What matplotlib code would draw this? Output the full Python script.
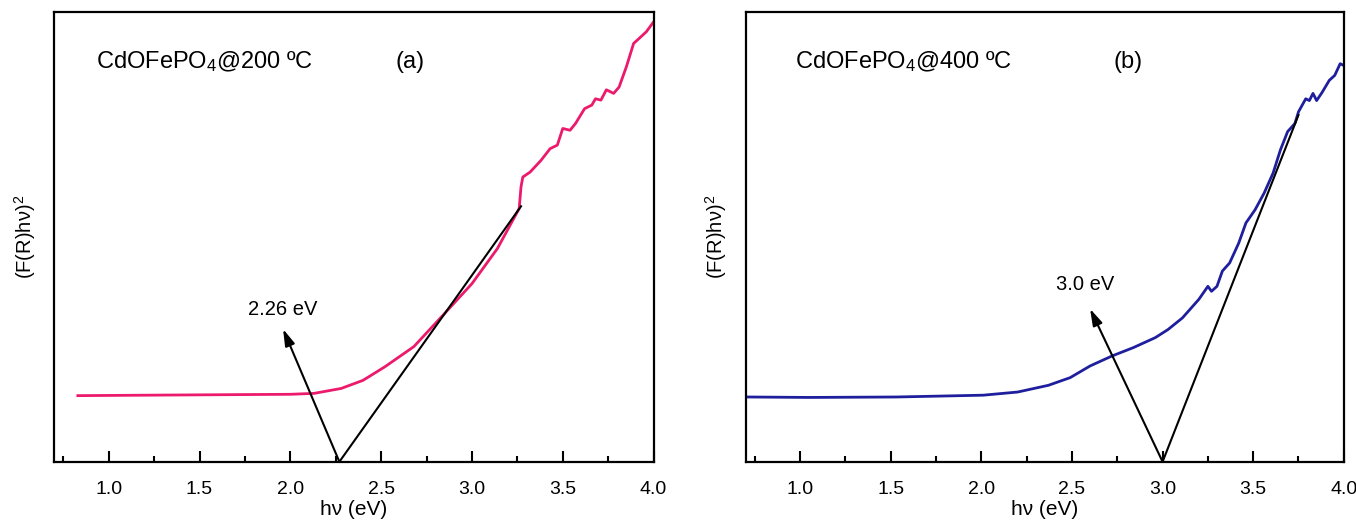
"""Tauc plots for CdOFePO4 calcined at 200 and 400 C (band gap estimate)."""

import matplotlib

matplotlib.use("Agg")
import matplotlib.pyplot as plt
from matplotlib.ticker import MultipleLocator

plt.rcParams["font.family"] = ["Liberation Sans", "DejaVu Sans"]
plt.rcParams.update(
    {
        "mathtext.fontset": "custom",
        "mathtext.rm": "Liberation Sans",
        "mathtext.it": "Liberation Sans:italic",
        "mathtext.bf": "Liberation Sans:bold",
    }
)

# panel (a) - 200 C
hv_a = [0.83, 1.2, 1.6, 2.0, 2.13, 2.28, 2.40, 2.52, 2.68, 2.85, 3.00, 3.14, 3.26,
        3.27, 3.28, 3.32, 3.38, 3.43, 3.47, 3.50, 3.54, 3.57, 3.62, 3.66, 3.68,
        3.71, 3.74, 3.78, 3.81, 3.85, 3.89, 3.92, 3.96, 4.00]
fr_a = [14.7, 14.8, 14.9, 15.0, 15.2, 16.3, 18.1, 21.1, 25.6, 33.0, 39.6, 47.4, 56.3,
        61.1, 63.3, 64.4, 67.0, 69.6, 70.4, 74.1, 73.7, 75.2, 78.5, 79.3, 80.7,
        80.4, 82.7, 81.9, 83.3, 87.8, 93.0, 94.1, 95.6, 97.8]

# panel (b) - 400 C
hv_b = [0.71, 1.05, 1.53, 2.01, 2.20, 2.37, 2.49, 2.60, 2.72, 2.84, 2.96, 3.03, 3.11,
        3.20, 3.25, 3.27, 3.30, 3.33, 3.37, 3.42, 3.46, 3.51, 3.56, 3.61, 3.65,
        3.69, 3.73, 3.75, 3.79, 3.81, 3.83, 3.85, 3.88, 3.92, 3.95, 3.98, 4.00]
fr_b = [14.4, 14.3, 14.4, 14.8, 15.5, 17.0, 18.7, 21.3, 23.5, 25.4, 27.6, 29.4, 32.0,
        36.1, 39.0, 37.9, 39.0, 42.4, 44.2, 48.6, 53.1, 56.0, 59.7, 64.2, 69.3,
        73.4, 75.2, 77.8, 80.7, 80.3, 81.9, 80.3, 82.1, 84.8, 85.9, 88.5, 88.1]

# tangent line end points and arrow/label positions
tangent_a = ([2.27, 3.27], [0.0, 56.8])
tangent_b = ([3.00, 3.75], [0.0, 77.1])
arrow_a = ((2.27, 0.0), (1.96, 29.5))
arrow_b = ((3.00, 0.0), (2.60, 34.0))
gap_a = "2.26 eV"
gap_b = "3.0 eV"

panels = [
    dict(hv=hv_a, fr=fr_a, color="#EC1A6C", tangent=tangent_a, arrow=arrow_a,
         gap=gap_a, gap_xy=(1.96, 31.8), name="CdOFePO$_4$@200 ºC", tag="(a)",
         name_x=0.93, tag_x=2.66, rect=[0.040, 0.112, 0.442, 0.865]),
    dict(hv=hv_b, fr=fr_b, color="#1F1F9E", tangent=tangent_b, arrow=arrow_b,
         gap=gap_b, gap_xy=(2.57, 37.2), name="CdOFePO$_4$@400 ºC", tag="(b)",
         name_x=0.97, tag_x=2.81, rect=[0.550, 0.112, 0.441, 0.865]),
]

fig = plt.figure(figsize=(13.56, 5.2), dpi=100)

for p in panels:
    ax = fig.add_axes(p["rect"])
    ax.plot(p["hv"], p["fr"], color=p["color"], linewidth=2.0)
    ax.plot(p["tangent"][0], p["tangent"][1], color="black", linewidth=1.5)
    (x0, y0), (x1, y1) = p["arrow"]
    ax.annotate("", xy=(x1, y1), xytext=(x0, y0),
                arrowprops=dict(arrowstyle="-|>,head_length=1.0,head_width=0.3",
                                color="black", linewidth=1.5, shrinkA=0, shrinkB=0))
    ax.text(p["gap_xy"][0], p["gap_xy"][1], p["gap"], fontsize=14.5,
            ha="center", va="bottom")
    ax.text(p["name_x"], 88.9, p["name"], fontsize=17, ha="left", va="center")
    ax.text(p["tag_x"], 88.9, p["tag"], fontsize=17, ha="center", va="center")

    ax.set_xlim(0.7, 4.0)
    ax.set_ylim(0, 100)
    ax.xaxis.set_major_locator(MultipleLocator(0.5))
    ax.xaxis.set_minor_locator(MultipleLocator(0.25))
    ax.xaxis.set_major_formatter(plt.FormatStrFormatter("%.1f"))
    ax.tick_params(axis="x", which="major", direction="in", length=8, width=1.5,
                   labelsize=14, pad=14, top=False)
    ax.tick_params(axis="x", which="minor", direction="in", length=4, width=1.5,
                   top=False)
    ax.set_yticks([])
    for s in ax.spines.values():
        s.set_linewidth(1.6)
    ax.set_xlabel("hν (eV)", fontsize=15, labelpad=1)
    ax.set_ylabel("(F(R)hν)$^2$", fontsize=14.5, labelpad=12)

fig.savefig("out.png", dpi=100)
